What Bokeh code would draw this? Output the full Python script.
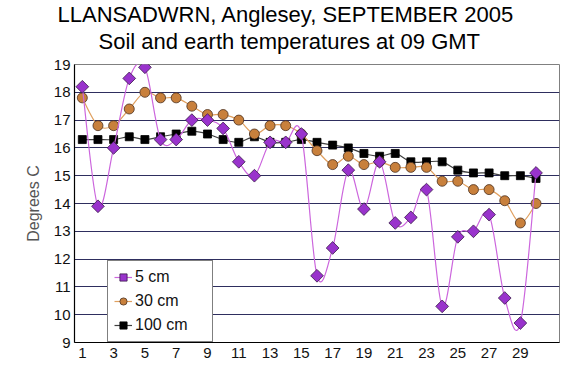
import numpy as np
from bokeh.plotting import figure
from bokeh.models import Title, Legend, LegendItem, Range1d, FixedTicker
from bokeh.embed import file_html
from bokeh.resources import INLINE

days = list(range(1, 31))
t5 = [18.2, 13.9, 16.0, 18.5, 18.9, 16.3, 16.3, 17.0, 17.0, 16.7,
      15.5, 15.0, 16.2, 16.2, 16.5, 11.4, 12.4, 15.2, 13.8, 15.5,
      13.3, 13.5, 14.5, 10.3, 12.8, 13.0, 13.6, 10.6, 9.7, 15.1]
t30 = [17.8, 16.8, 16.8, 17.4, 18.0, 17.8, 17.8, 17.5, 17.2, 17.2,
       17.0, 16.5, 16.8, 16.8, 16.5, 15.9, 15.4, 15.7, 15.4, 15.5,
       15.3, 15.3, 15.3, 14.8, 14.8, 14.5, 14.5, 14.1, 13.3, 14.0]
t100 = [16.3, 16.3, 16.3, 16.4, 16.3, 16.4, 16.5, 16.6, 16.5, 16.3,
        16.2, 16.4, 16.2, 16.2, 16.3, 16.2, 16.1, 16.0, 15.8, 15.7,
        15.8, 15.5, 15.5, 15.5, 15.2, 15.1, 15.1, 15.0, 15.0, 14.9]
labels = ["5 cm", "30 cm", "100 cm"]
title_lines = ["LLANSADWRN, Anglesey, SEPTEMBER 2005",
               "Soil and earth temperatures at 09 GMT"]
y_ticks = list(range(9, 20))
x_ticks = list(range(1, 30, 2))

FONT = "Liberation Sans"

p = figure(width=567, height=372, output_backend="svg", toolbar_location=None,
           x_range=Range1d(0.5, 31.5), y_range=Range1d(9, 19),
           min_border_left=74, min_border_right=8, min_border_top=64, min_border_bottom=30)
p.frame_width = 485
p.frame_height = 278
p.background_fill_color = "white"
p.border_fill_color = "white"
p.outline_line_color = "#808080"

t2 = Title(text=title_lines[1], align="left", offset=24,
           text_font=FONT, text_font_size="22px", text_font_style="normal",
           text_color="#000000", standoff=22)
t1 = Title(text=title_lines[0], align="left", offset=-17,
           text_font=FONT, text_font_size="22px", text_font_style="normal",
           text_color="#000000", standoff=-22)
p.add_layout(t2, "above")
p.add_layout(t1, "above")

p.xgrid.visible = False
p.ygrid.ticker = FixedTicker(ticks=y_ticks)
p.ygrid.grid_line_color = "#2e2e5e"
p.ygrid.grid_line_width = 1.2

p.yaxis.ticker = FixedTicker(ticks=y_ticks)
p.xaxis.ticker = FixedTicker(ticks=x_ticks)
for ax in (p.xaxis, p.yaxis):
    ax.axis_line_color = "#000000"
    ax.axis_line_width = 1.2
    ax.major_tick_line_color = None
    ax.minor_tick_line_color = None
    ax.major_tick_out = 0
    ax.major_label_text_font = FONT
    ax.major_label_text_font_size = "15px"
    ax.major_label_text_color = "#111111"
p.xaxis.major_label_standoff = 5
p.yaxis.major_label_standoff = 4
p.yaxis.axis_label = "Degrees C"
p.yaxis.axis_label_text_font = FONT
p.yaxis.axis_label_text_font_size = "16px"
p.yaxis.axis_label_text_font_style = "normal"
p.yaxis.axis_label_text_color = "#555555"
p.yaxis.axis_label_standoff = 9


def smooth(xs, ys):
    xs = np.asarray(xs, float)
    ys = np.asarray(ys, float)
    n = len(xs)
    out = {k: [] for k in ("x0", "y0", "x1", "y1", "cx0", "cy0", "cx1", "cy1")}
    for i in range(n - 1):
        a = i - 1 if i > 0 else i
        d = i + 2 if i + 2 < n else i + 1
        out["x0"].append(xs[i]); out["y0"].append(ys[i])
        out["x1"].append(xs[i + 1]); out["y1"].append(ys[i + 1])
        out["cx0"].append(xs[i] + (xs[i + 1] - xs[a]) / 6)
        out["cy0"].append(ys[i] + (ys[i + 1] - ys[a]) / 6)
        out["cx1"].append(xs[i + 1] - (xs[d] - xs[i]) / 6)
        out["cy1"].append(ys[i + 1] - (ys[d] - ys[i]) / 6)
    return out


series = [
    (t5, "#cc66dd", dict(marker="square", angle=np.pi / 4, size=9,
                         fill_color="#9933cc", line_color="#3a1a4a")),
    (t30, "#e0a060", dict(marker="circle", size=10,
                          fill_color="#c8803c", line_color="#4a3020")),
    (t100, "#404040", dict(marker="square", size=8,
                           fill_color="#000000", line_color="#000000")),
]

renderers = {}
for (vals, lcol, mk), lab in zip(series[::-1], labels[::-1]):
    b = smooth(days, vals)
    br = p.bezier(x0="x0", y0="y0", x1="x1", y1="y1", cx0="cx0", cy0="cy0",
                  cx1="cx1", cy1="cy1", source=b, line_color=lcol, line_width=1.2)
    s = p.scatter(days, vals, line_width=0.8, **mk)
    renderers[lab] = [br, s]

items = [LegendItem(label=lab, renderers=renderers[lab], index=0) for lab in labels]

leg = Legend(items=items, location=(33, 0), orientation="vertical",
             label_text_font=FONT, label_text_font_size="16px",
             label_text_color="#111111",
             glyph_width=18, glyph_height=20, label_height=20,
             label_standoff=3, label_width=71, spacing=4, padding=6,
             margin=0, border_line_color="#000000", border_line_width=1.2,
             background_fill_color="white", background_fill_alpha=1.0)
p.add_layout(leg, "center")

open("out.html", "w").write(file_html(p, INLINE))
